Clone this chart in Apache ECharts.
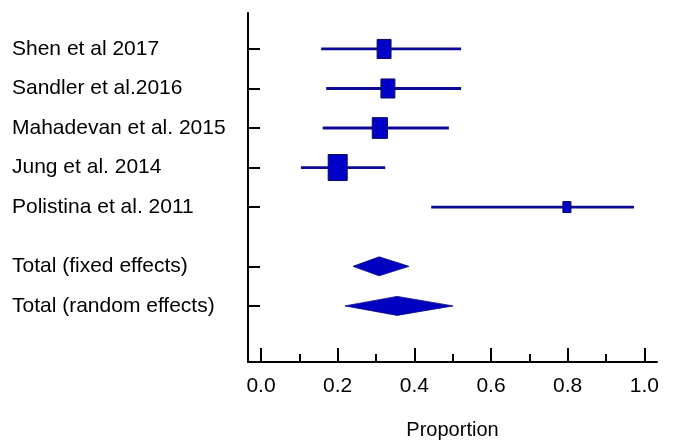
<!DOCTYPE html>
<html><head><meta charset="utf-8">
<script src="https://cdn.jsdelivr.net/npm/echarts@6/dist/echarts.min.js"></script>
<style>html,body{margin:0;padding:0;background:#fff}#c{width:675px;height:445px}</style>
</head><body><div id="c"></div>
<script>
// Data
var studies = ['Shen et al 2017', 'Sandler et al.2016', 'Mahadevan et al. 2015', 'Jung et al. 2014', 'Polistina et al. 2011'];
var studyRows = [1, 2, 3, 4, 5];
var studyLow = [0.157, 0.170, 0.161, 0.104, 0.444];
var studyEst = [0.321, 0.331, 0.310, 0.200, 0.798];
var studyHigh = [0.522, 0.522, 0.490, 0.324, 0.973];
var studyWeight = [18.6, 18.6, 22.0, 34.6, 6.2];

var pooled = ['Total (fixed effects)', 'Total (random effects)'];
var pooledRows = [6.5, 7.5];
var pooledLow = [0.240, 0.219];
var pooledEst = [0.308, 0.355];
var pooledHigh = [0.386, 0.501];

var xMajorTicks = [0, 0.2, 0.4, 0.6, 0.8, 1.0];
var xMinorTicks = [0.1, 0.3, 0.5, 0.7, 0.9];

var FONT = "'Liberation Sans Narrow', 'Liberation Sans', Arial, sans-serif";
var allRows = studyRows.concat(pooledRows);
var allNames = studies.concat(pooled);

var studyData = studyRows.map(function (r, i) {
  return [r, studyLow[i], studyEst[i], studyHigh[i], studyWeight[i]];
});
var pooledData = pooledRows.map(function (r, i) {
  return [r, pooledLow[i], pooledEst[i], pooledHigh[i]];
});

var chart = echarts.init(document.getElementById('c'), null, {renderer: 'canvas'});
chart.setOption({
  animation: false,
  grid: {left: 248, right: 18, top: 13, bottom: 83},
  xAxis: [{
    type: 'value', min: -0.034, max: 1.033,
    axisLine: {show: true, onZero: false, lineStyle: {color: '#000', width: 2}},
    axisTick: {show: true, inside: true, length: 14, lineStyle: {color: '#000', width: 2}, customValues: xMajorTicks},
    axisLabel: {show: true, margin: 14, customValues: xMajorTicks, fontFamily: FONT, fontSize: 21, color: '#000',
      formatter: function (v) { return v.toFixed(1); }},
    splitLine: {show: false},
    name: 'Proportion', nameLocation: 'middle', nameGap: 58,
    nameTextStyle: {fontFamily: FONT, fontSize: 20, color: '#000'}
  }, {
    type: 'value', min: -0.034, max: 1.033, position: 'bottom',
    axisLine: {show: false},
    axisTick: {show: true, inside: true, length: 8, lineStyle: {color: '#000', width: 2}, customValues: xMinorTicks},
    axisLabel: {show: false},
    splitLine: {show: false}
  }],
  yAxis: {
    type: 'value', inverse: true, min: 0.09, max: 8.92,
    axisLine: {show: true, onZero: false, lineStyle: {color: '#000', width: 2}},
    axisTick: {show: true, inside: true, length: 12, lineStyle: {color: '#000', width: 2}, customValues: allRows},
    axisLabel: {show: true, align: 'left', margin: 236, customValues: allRows, fontFamily: FONT, fontSize: 21, color: '#000',
      formatter: function (v) {
        for (var i = 0; i < allRows.length; i++) { if (Math.abs(allRows[i] - v) < 1e-6) return allNames[i]; }
        return '';
      }},
    splitLine: {show: false}
  },
  series: [{
    type: 'custom',
    xAxisIndex: 0,
    data: studyData,
    renderItem: function (params, api) {
      var y = api.value(0);
      var lo = api.coord([api.value(1), y]);
      var est = api.coord([api.value(2), y]);
      var hi = api.coord([api.value(3), y]);
      var s = Math.sqrt(api.value(4));
      var w = 3.23 * s, h = 4.42 * s;
      return {
        type: 'group',
        children: [{
          type: 'line',
          shape: {x1: lo[0], y1: lo[1], x2: hi[0], y2: hi[1]},
          style: {stroke: '#0a0a96', lineWidth: 2.8}
        }, {
          type: 'rect',
          shape: {x: est[0] - w / 2, y: est[1] - h / 2, width: w, height: h},
          style: {fill: '#0000c8', stroke: '#0a0a5a', lineWidth: 1}
        }]
      };
    }
  }, {
    type: 'custom',
    xAxisIndex: 0,
    data: pooledData,
    renderItem: function (params, api) {
      var y = api.value(0);
      var lo = api.coord([api.value(1), y]);
      var est = api.coord([api.value(2), y]);
      var hi = api.coord([api.value(3), y]);
      var hh = 9.5;
      return {
        type: 'polygon',
        shape: {points: [[lo[0], lo[1]], [est[0], est[1] - hh], [hi[0], hi[1]], [est[0], est[1] + hh]]},
        style: {fill: '#0000c0', stroke: '#0a0a80', lineWidth: 0.8}
      };
    }
  }]
});
</script></body></html>
